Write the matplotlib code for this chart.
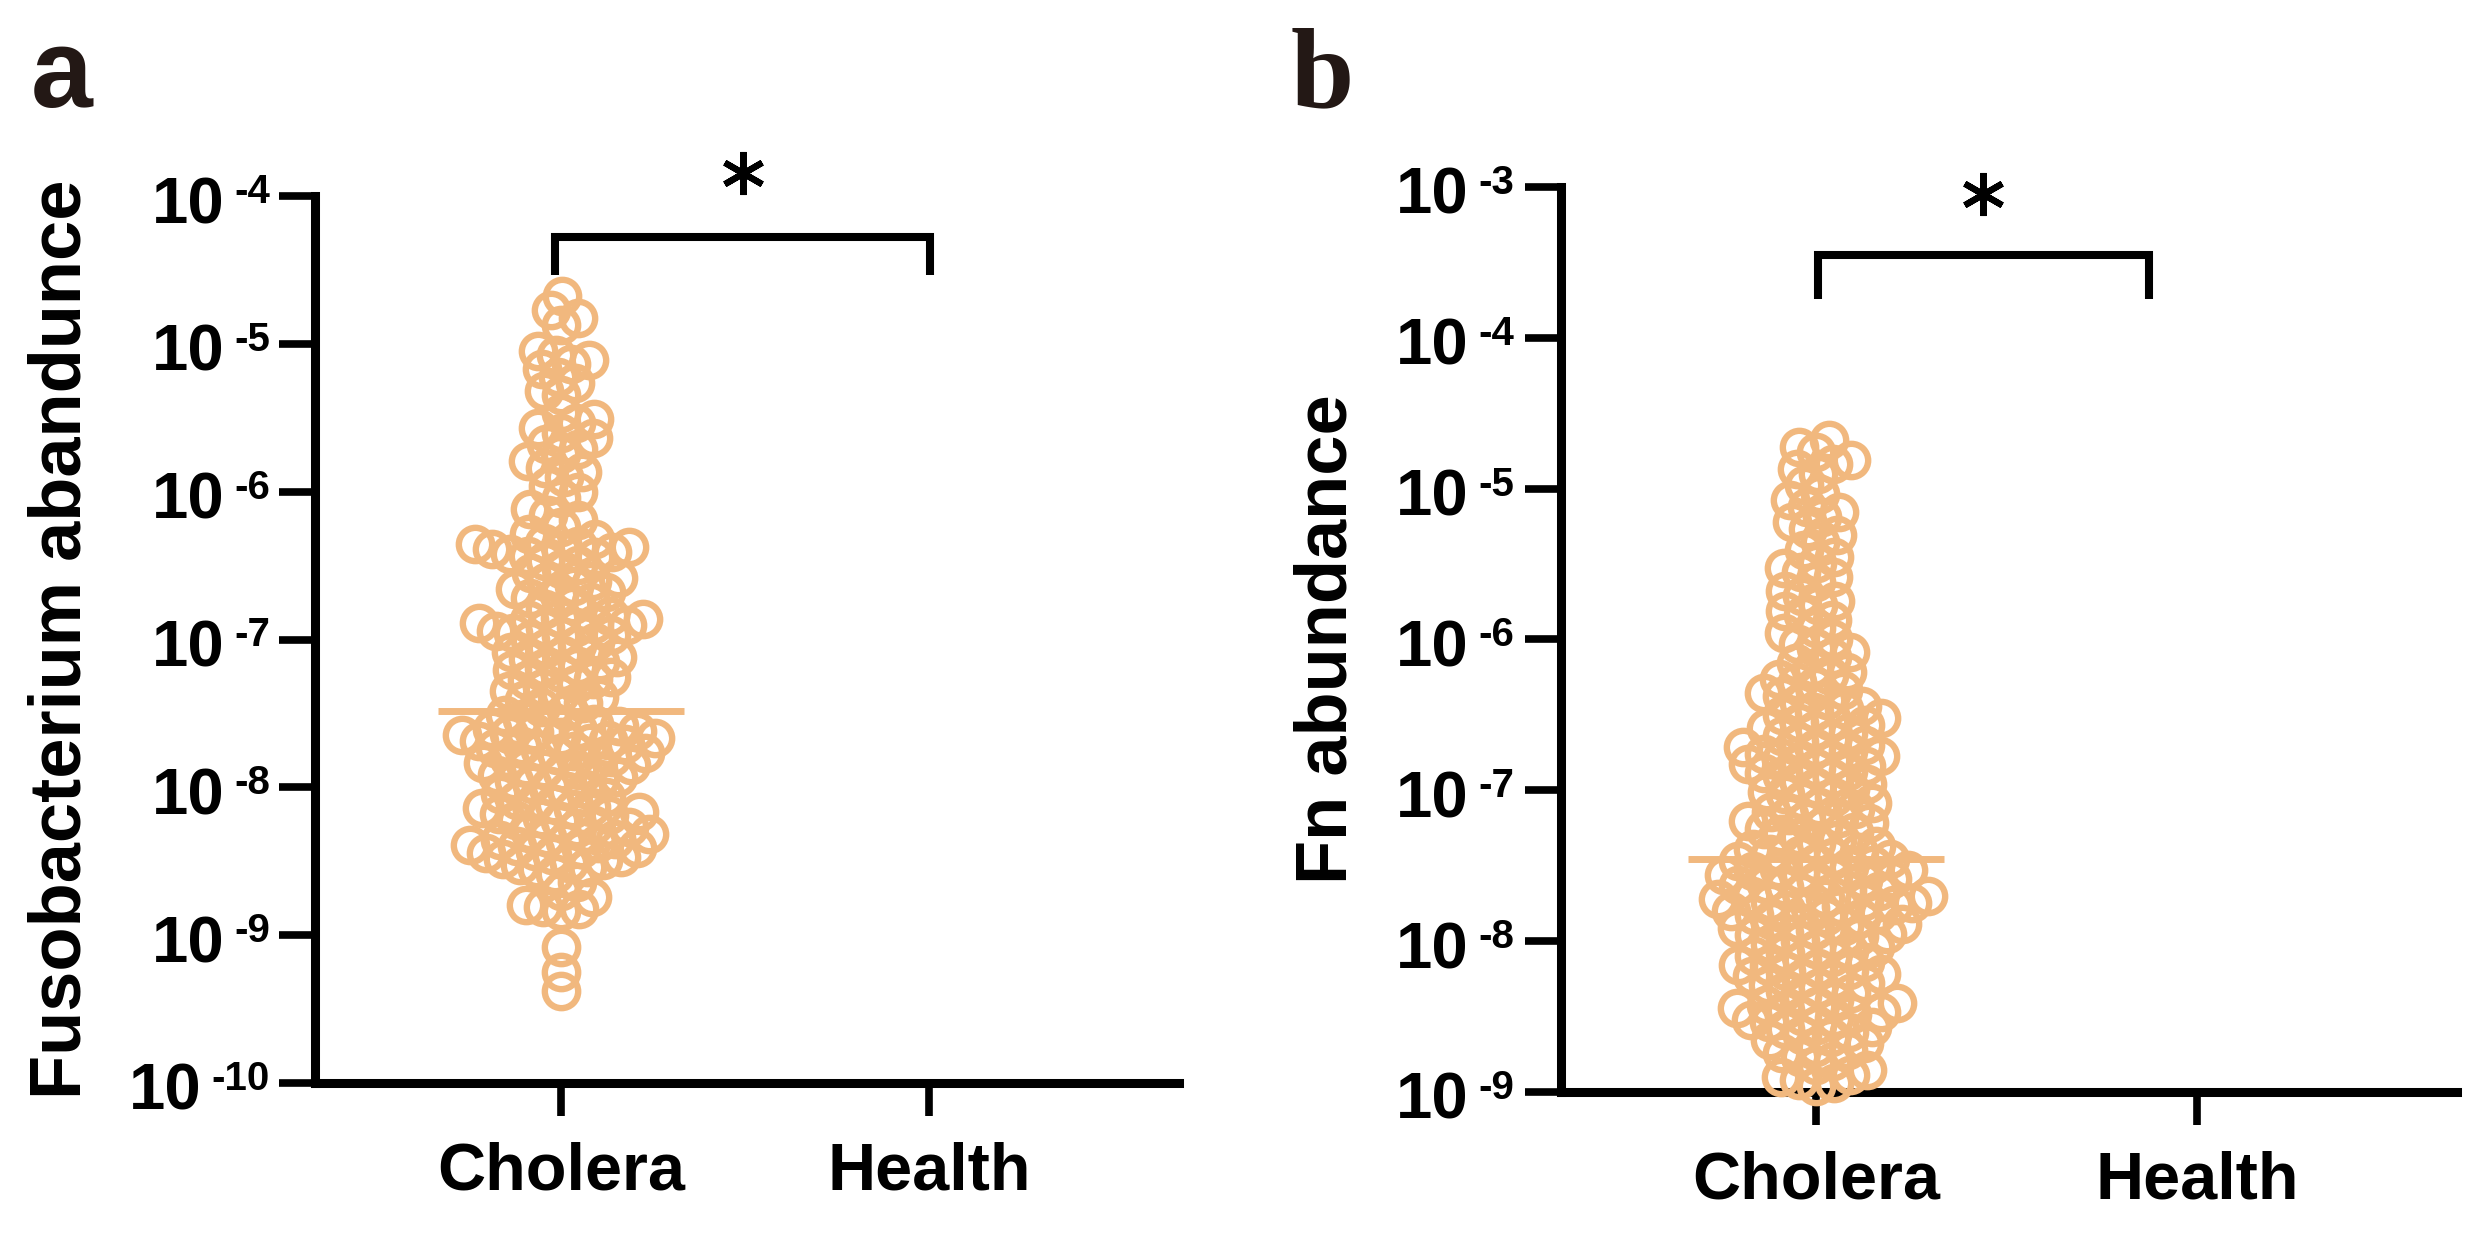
import numpy as np
import matplotlib
matplotlib.use('Agg')
import matplotlib.pyplot as plt
from matplotlib import transforms
from matplotlib.ticker import NullLocator

plt.rcParams['font.family'] = ['Liberation Sans', 'DejaVu Sans']

# ---- data ----
groups = ['Cholera', 'Health']

fuso_cholera = [
    2.1e-5, 1.7e-5, 1.5e-5, 1.35e-5,
    9.0e-6, 8.4e-6, 7.8e-6, 7.3e-6, 6.8e-6,
    6.0e-6, 5.4e-6, 4.8e-6, 4.5e-6,
    3.4e-6, 3.1e-6, 2.9e-6, 2.7e-6, 2.5e-6,
    2.3e-6, 2.1e-6, 1.95e-6, 1.8e-6, 1.6e-6,
    1.45e-6, 1.35e-6, 1.25e-6, 1.1e-6, 1.0e-6, 9.0e-7,
    7.6e-7, 7.0e-7, 6.4e-7, 5.8e-7, 5.2e-7, 4.8e-7,
    4.5e-7, 4.4e-7, 4.3e-7, 4.2e-7, 4.1e-7, 4.0e-7, 3.9e-7, 3.8e-7, 3.7e-7,
    3.6e-7, 3.4e-7, 3.2e-7, 3.0e-7, 2.8e-7, 2.6e-7, 2.5e-7,
    2.45e-7, 2.3e-7, 2.2e-7, 2.1e-7, 2.0e-7, 1.9e-7, 1.8e-7, 1.7e-7, 1.6e-7,
    1.45e-7, 1.4e-7, 1.38e-7, 1.35e-7, 1.3e-7, 1.28e-7, 1.25e-7, 1.22e-7, 1.2e-7,
    1.15e-7, 1.1e-7, 1.08e-7, 1.05e-7, 1.0e-7, 9.6e-8, 9.2e-8, 8.8e-8,
    8.2e-8, 7.8e-8, 7.6e-8, 7.4e-8, 7.0e-8, 6.6e-8, 6.4e-8, 6.2e-8, 5.9e-8,
    5.6e-8, 5.4e-8, 5.3e-8, 5.0e-8, 4.7e-8,
    4.5e-8, 4.3e-8, 4.1e-8, 3.9e-8, 3.7e-8, 3.5e-8, 3.3e-8, 3.1e-8, 2.9e-8,
    2.8e-8, 2.7e-8, 2.6e-8, 2.5e-8,
    2.45e-8, 2.4e-8, 2.35e-8, 2.3e-8, 2.25e-8, 2.2e-8, 2.15e-8, 2.1e-8, 2.05e-8,
    2.0e-8, 1.95e-8, 1.9e-8, 1.85e-8, 1.8e-8, 1.75e-8, 1.7e-8, 1.65e-8, 1.6e-8,
    1.55e-8, 1.5e-8, 1.45e-8,
    1.42e-8, 1.38e-8, 1.34e-8, 1.3e-8, 1.26e-8, 1.22e-8, 1.18e-8, 1.14e-8, 1.1e-8,
    1.06e-8, 1.02e-8, 9.8e-9, 9.4e-9, 9.0e-9, 8.6e-9, 8.2e-9, 8.0e-9,
    7.7e-9, 7.4e-9, 7.2e-9, 7.1e-9, 6.8e-9, 6.6e-9, 6.5e-9, 6.2e-9, 6.0e-9,
    5.9e-9, 5.6e-9, 5.4e-9, 5.3e-9, 5.0e-9, 4.8e-9,
    4.6e-9, 4.5e-9, 4.4e-9, 4.3e-9, 4.2e-9, 4.1e-9, 4.0e-9, 3.9e-9, 3.8e-9,
    3.7e-9, 3.6e-9, 3.5e-9, 3.4e-9, 3.3e-9, 3.2e-9, 3.1e-9, 3.0e-9, 2.9e-9, 2.8e-9,
    2.6e-9, 2.3e-9, 2.0e-9, 1.8e-9, 1.6e-9, 1.55e-9, 1.5e-9, 1.45e-9,
    8.3e-10, 5.6e-10, 4.2e-10,
]
fuso_mean = 3.3e-8

fn_cholera = [
    2.1e-5, 1.9e-5, 1.75e-5,
    1.55e-5, 1.45e-5, 1.35e-5, 1.25e-5,
    1.05e-5, 9.2e-6, 8.4e-6, 7.6e-6, 7.0e-6, 6.5e-6,
    6.0e-6, 5.4e-6, 4.9e-6, 4.4e-6, 3.9e-6,
    3.5e-6, 3.2e-6, 3.0e-6, 2.8e-6, 2.6e-6, 2.4e-6, 2.1e-6,
    1.95e-6, 1.8e-6, 1.7e-6, 1.55e-6, 1.45e-6, 1.35e-6, 1.2e-6,
    1.1e-6, 1.0e-6, 9.4e-7, 8.8e-7, 8.2e-7, 7.6e-7, 7.0e-7, 6.5e-7,
    6.1e-7, 5.8e-7, 5.5e-7, 5.2e-7, 4.9e-7, 4.6e-7, 4.4e-7, 4.2e-7, 4.0e-7,
    3.8e-7, 3.6e-7,
    3.45e-7, 3.3e-7, 3.15e-7, 3.0e-7, 2.9e-7, 2.8e-7, 2.7e-7, 2.6e-7, 2.5e-7,
    2.4e-7, 2.3e-7, 2.2e-7, 2.1e-7, 2.0e-7,
    1.95e-7, 1.9e-7, 1.82e-7, 1.75e-7, 1.7e-7, 1.65e-7, 1.6e-7, 1.55e-7, 1.5e-7,
    1.45e-7, 1.4e-7, 1.35e-7, 1.3e-7, 1.25e-7, 1.2e-7, 1.15e-7,
    1.1e-7, 1.06e-7, 1.02e-7, 9.8e-8, 9.4e-8, 9.0e-8, 8.6e-8, 8.2e-8, 7.8e-8,
    7.5e-8, 7.2e-8, 6.9e-8, 6.6e-8, 6.4e-8, 6.3e-8,
    6.1e-8, 5.8e-8, 5.5e-8, 5.3e-8, 5.1e-8, 4.9e-8, 4.7e-8, 4.5e-8, 4.3e-8,
    4.1e-8, 3.9e-8, 3.8e-8, 3.7e-8, 3.6e-8,
    3.5e-8, 3.4e-8, 3.3e-8, 3.2e-8, 3.1e-8, 3.0e-8, 2.95e-8, 2.9e-8, 2.8e-8,
    2.75e-8, 2.7e-8, 2.6e-8, 2.55e-8, 2.5e-8, 2.4e-8, 2.35e-8, 2.3e-8, 2.2e-8,
    2.15e-8, 2.1e-8, 2.0e-8,
    1.98e-8, 1.94e-8, 1.9e-8, 1.86e-8, 1.82e-8, 1.78e-8, 1.74e-8, 1.7e-8, 1.66e-8,
    1.62e-8, 1.58e-8, 1.54e-8, 1.5e-8, 1.46e-8, 1.42e-8, 1.38e-8, 1.34e-8, 1.3e-8,
    1.26e-8, 1.22e-8, 1.18e-8, 1.14e-8, 1.12e-8, 1.1e-8,
    1.08e-8, 1.04e-8, 1.0e-8, 9.6e-9, 9.2e-9, 8.9e-9, 8.6e-9, 8.3e-9, 8.0e-9,
    7.8e-9, 7.5e-9, 7.3e-9, 7.0e-9, 6.8e-9, 6.6e-9, 6.4e-9, 6.3e-9,
    6.1e-9, 5.9e-9, 5.7e-9, 5.5e-9, 5.3e-9, 5.1e-9, 4.9e-9, 4.7e-9, 4.5e-9,
    4.3e-9, 4.1e-9, 3.9e-9, 3.8e-9, 3.7e-9, 3.6e-9,
    3.5e-9, 3.4e-9, 3.3e-9, 3.2e-9, 3.1e-9, 3.0e-9, 2.9e-9, 2.8e-9, 2.7e-9,
    2.6e-9, 2.5e-9, 2.4e-9, 2.3e-9, 2.2e-9, 2.1e-9, 2.0e-9,
    1.9e-9, 1.8e-9, 1.7e-9, 1.6e-9, 1.5e-9, 1.4e-9, 1.3e-9, 1.25e-9, 1.2e-9,
    1.15e-9, 1.1e-9,
]
fn_mean = 3.5e-8

exps_a = [-4, -5, -6, -7, -8, -9, -10]
exps_b = [-3, -4, -5, -6, -7, -8, -9]

# ---- style ----
ORANGE = '#F1B87E'
DARK = '#231815'
SPINE_W = 6.5
MARKER_MS = 24
MARKER_MEW = 4.6
SWARM_GAP = 18  # px between neighbouring centres


def swarm_x(ax, values, x_center, dmin):
    pts = ax.transData.transform(np.column_stack([np.full(len(values), x_center), values]))
    ys = pts[:, 1]
    unit = ax.transData.transform((1, 1))[0] - ax.transData.transform((0, 1))[0]
    placed = []
    offs = np.zeros(len(values))
    for i in np.argsort(ys):
        y = ys[i]
        cands = [0.0]
        for px, py in placed:
            dy = y - py
            if abs(dy) < dmin:
                dx = np.sqrt(dmin ** 2 - dy ** 2)
                cands += [px + dx, px - dx]
        cands.sort(key=abs)
        best = cands[0]
        for c in cands:
            if all((c - px) ** 2 + (y - py) ** 2 >= dmin ** 2 - 1e-6 for px, py in placed):
                best = c
                break
        placed.append((best, y))
        offs[i] = best
    return x_center + offs / unit


def log_labels(ax, exps, exp_right):
    ax.set_yticks([10.0 ** e for e in exps])
    ax.set_yticklabels([''] * len(exps))
    ax.yaxis.set_minor_locator(NullLocator())
    base = transforms.blended_transform_factory(ax.transAxes, ax.transData)
    tr = transforms.offset_copy(base, fig=ax.figure, x=-exp_right, y=23, units='dots')
    for e in exps:
        sup = ax.text(0, 10.0 ** e, str(e), transform=tr, ha='right', va='top',
                      fontsize=29, fontweight='bold')
        ax.annotate('10', xy=(0, 1), xycoords=sup, xytext=(-10, -3),
                    textcoords='offset pixels', ha='right', va='top',
                    fontsize=47, fontweight='bold')


def style_axes(ax, xlim, ylim):
    ax.set_yscale('log')
    ax.set_xlim(*xlim)
    ax.set_ylim(*ylim)
    for s in ['top', 'right']:
        ax.spines[s].set_visible(False)
    for s in ['left', 'bottom']:
        ax.spines[s].set_linewidth(SPINE_W)
        ax.spines[s].set_capstyle('projecting')
    ax.tick_params(axis='y', direction='out', length=26, width=5.5)
    ax.tick_params(axis='x', direction='out', length=24, width=5.5, pad=18)
    ax.set_xticks([0, 1], groups, fontsize=48, fontweight='bold')


def panel(ax, xlim, values, mean, ylabel, label_x, exps, exp_right, bracket, star):
    style_axes(ax, xlim, (10.0 ** exps[-1], 10.0 ** exps[0]))
    log_labels(ax, exps, exp_right)
    xs = swarm_x(ax, values, 0, SWARM_GAP)
    ax.plot([-0.335, 0.335], [mean, mean], color=ORANGE, lw=5, solid_capstyle='butt', zorder=2)
    ax.plot(xs, values, 'o', mfc='none', mec=ORANGE, ms=MARKER_MS, mew=MARKER_MEW,
            clip_on=False, zorder=3)
    x0, x1, ybot, ytop = bracket
    ax.plot([x0, x0, x1, x1], [ybot, ytop, ytop, ybot], color='black', lw=5.8,
            solid_joinstyle='miter', solid_capstyle='butt', clip_on=False)
    ax.plot([star[0]], [star[1]], marker=(6, 2, 0), ms=31, mew=4.5, color='black',
            clip_on=False)
    ax.set_ylabel(ylabel, fontsize=52, fontweight='bold')
    ax.yaxis.set_label_coords(label_x, 0.5)


fig = plt.figure(figsize=(24.73, 12.37), dpi=100)
W, H = 2473, 1237

ax_a = fig.add_axes([315 / W, 1 - 1083 / H, 864 / W, (1083 - 196) / H])
panel(ax_a, (-0.668, 1.679), fuso_cholera, fuso_mean, 'Fusobacterium abandunce', -0.254,
      exps_a, 45, (-0.016, 1.003, 2.9e-5, 5.3e-5), (0.495, 1.43e-4))

ax_b = fig.add_axes([1561 / W, 1 - 1092 / H, 896 / W, (1092 - 187) / H])
panel(ax_b, (-0.669, 1.682), fn_cholera, fn_mean, 'Fn abundance', -0.223,
      exps_b, 47, (0.005, 0.874, 1.8e-4, 3.53e-4), (0.438, 8.98e-4))

fig.text(31 / W, 1 - 107 / H, 'a', fontsize=80, fontweight='bold', color=DARK,
         ha='left', va='baseline')
fig.text(1291 / W, 1 - 107 / H, 'b', fontsize=82, fontweight='bold', color=DARK,
         family='Liberation Serif', ha='left', va='baseline')

fig.savefig('out.png', dpi=100)
